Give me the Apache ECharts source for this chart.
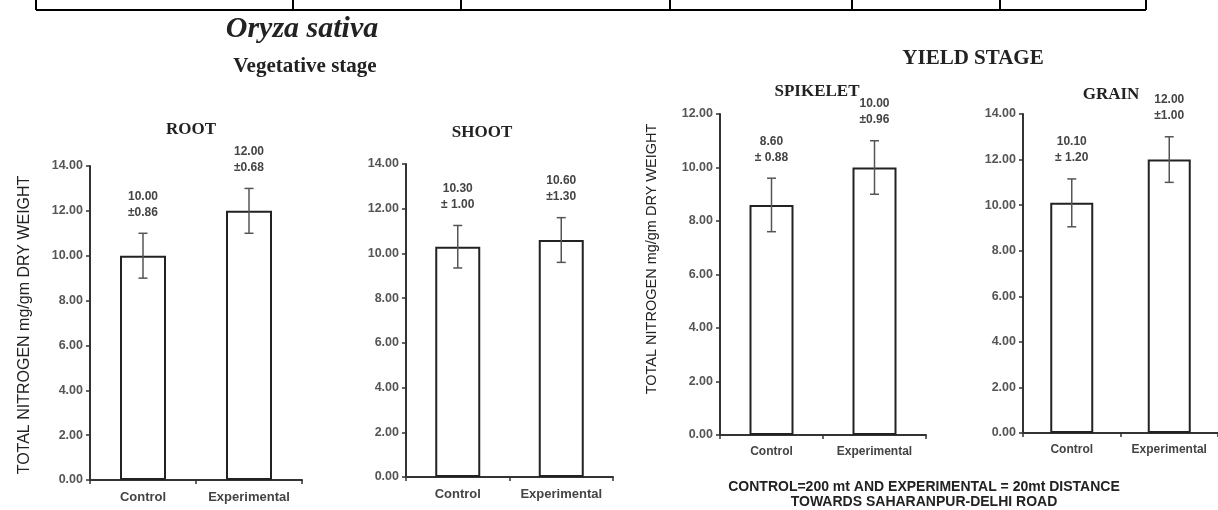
<!DOCTYPE html>
<html>
<head>
<meta charset="utf-8">
<script src="https://cdn.jsdelivr.net/npm/echarts@6/dist/echarts.min.js"></script>
<style>
  html, body { margin: 0; padding: 0; background: #fff; }
  #chart { width: 1218px; height: 510px; }
</style>
</head>
<body>
<div id="chart"></div>
<script>
// values
var categories = ['Control', 'Experimental'];

var rootMeans = [10.0, 12.0];
var rootErr = [1.0, 1.0];
var rootSE = ['±0.86', '±0.68'];

var shootMeans = [10.3, 10.6];
var shootErr = [0.95, 1.0];
var shootSE = ['± 1.00', '±1.30'];

var spikeletMeans = [8.6, 10.0];
var spikeletErr = [1.0, 1.0];
var spikeletSE = ['± 0.88', '±0.96'];

var grainMeans = [10.1, 12.0];
var grainErr = [1.05, 1.0];
var grainSE = ['± 1.20', '±1.00'];

var yMax = [14, 14, 12, 14];

var panels = [
    { means: rootMeans, err: rootErr, se: rootSE, grid: { left: 90, top: 166, width: 212, height: 314 }, barW: 46, catSize: 13 },
    { means: shootMeans, err: shootErr, se: shootSE, grid: { left: 406, top: 164, width: 207, height: 313 }, barW: 45, catSize: 13 },
    { means: spikeletMeans, err: spikeletErr, se: spikeletSE, grid: { left: 720, top: 114, width: 206, height: 321 }, barW: 44, catSize: 12 },
    { means: grainMeans, err: grainErr, se: grainSE, grid: { left: 1023, top: 114, width: 206, height: 319 }, barW: 43, catSize: 12 }
];

var chart = echarts.init(document.getElementById('chart'));

var grids = [], xAxes = [], yAxes = [], series = [];

panels.forEach(function (p, i) {
    grids.push(p.grid);
    xAxes.push({
        type: 'category',
        gridIndex: i,
        data: categories,
        axisLine: { lineStyle: { color: '#333', width: 2 } },
        axisTick: { show: true, length: 4, lineStyle: { color: '#333', width: 1.5 } },
        axisLabel: {
            interval: 0, hideOverlap: false,
            color: '#444', fontWeight: 'bold', fontSize: p.catSize, fontFamily: 'Liberation Sans, Arial', margin: 11
        }
    });
    yAxes.push({
        type: 'value',
        gridIndex: i,
        min: 0,
        max: yMax[i],
        interval: 2,
        splitLine: { show: false },
        axisLine: { show: true, lineStyle: { color: '#333', width: 2 } },
        axisTick: { show: true, length: 4, lineStyle: { color: '#333', width: 1.5 } },
        axisLabel: {
            color: '#555', fontWeight: 'bold', fontSize: 12.5, fontFamily: 'Liberation Sans, Arial', margin: 7,
            formatter: function (v) { return v.toFixed(2); }
        }
    });
    series.push({
        type: 'bar',
        xAxisIndex: i,
        yAxisIndex: i,
        data: p.means,
        barWidth: p.barW,
        silent: true,
        itemStyle: { color: '#fff', borderColor: '#222', borderWidth: 2 }
    });
    var errData = p.means.map(function (m, k) { return [k, m, p.err[k]]; });
    series.push({
        type: 'custom',
        xAxisIndex: i,
        yAxisIndex: i,
        data: errData,
        encode: { x: 0, y: 1 },
        silent: true,
        z: 5,
        renderItem: function (params, api) {
            var k = api.value(0), m = api.value(1), e = api.value(2);
            var hi = api.coord([k, m + e]);
            var lo = api.coord([k, m - e]);
            var cap = 4.5;
            var st = { stroke: '#555', lineWidth: 1.5 };
            return {
                type: 'group',
                children: [
                    { type: 'line', shape: { x1: hi[0], y1: hi[1], x2: lo[0], y2: lo[1] }, style: st },
                    { type: 'line', shape: { x1: hi[0] - cap, y1: hi[1], x2: hi[0] + cap, y2: hi[1] }, style: st },
                    { type: 'line', shape: { x1: lo[0] - cap, y1: lo[1], x2: lo[0] + cap, y2: lo[1] }, style: st },
                    {
                        type: 'text',
                        style: {
                            text: m.toFixed(2) + '\n' + p.se[params.dataIndex],
                            x: hi[0], y: hi[1] - 13,
                            align: 'center', verticalAlign: 'bottom',
                            fill: '#444', font: 'bold 12px "Liberation Sans", Arial',
                            lineHeight: 16
                        }
                    }
                ]
            };
        }
    });
});

function txt(text, x, y, font, rot) {
    return {
        type: 'text', x: x, y: y, rotation: rot || 0, silent: true,
        style: { text: text, font: font, fill: '#222', align: 'center', verticalAlign: 'middle' }
    };
}

var serif = '"Liberation Serif", "Times New Roman", serif';
var sans = '"Liberation Sans", Arial, sans-serif';
var yName = 'TOTAL NITROGEN mg/gm DRY WEIGHT';

var graphics = [
    txt('Oryza sativa', 302, 29, 'italic bold 30px ' + serif),
    txt('Vegetative stage', 305, 67, 'bold 21px ' + serif),
    txt('ROOT', 191, 130, 'bold 17px ' + serif),
    txt('SHOOT', 482, 133, 'bold 17px ' + serif),
    txt('YIELD STAGE', 973, 59, 'bold 21px ' + serif),
    txt('SPIKELET', 817, 92, 'bold 17px ' + serif),
    txt('GRAIN', 1111, 95, 'bold 17px ' + serif),
    txt(yName, 25, 325, '16px ' + sans, Math.PI / 2),
    txt(yName, 652, 259, '14.5px ' + sans, Math.PI / 2),
    txt('CONTROL=200 mt AND EXPERIMENTAL = 20mt DISTANCE', 924, 487, 'bold 14px ' + sans),
    txt('TOWARDS SAHARANPUR-DELHI ROAD', 924, 502, 'bold 14px ' + sans)
];

// table border at the top of the page
var tableX = [36, 293, 461, 670, 852, 1000, 1146];
graphics.push({ type: 'line', silent: true, shape: { x1: 36, y1: 10, x2: 1146, y2: 10 }, style: { stroke: '#000', lineWidth: 2 } });
tableX.forEach(function (x) {
    graphics.push({ type: 'line', silent: true, shape: { x1: x, y1: 0, x2: x, y2: 10 }, style: { stroke: '#000', lineWidth: 2 } });
});

chart.setOption({
    backgroundColor: '#fff',
    animation: false,
    grid: grids,
    xAxis: xAxes,
    yAxis: yAxes,
    series: series,
    graphic: graphics
});
</script>
</body>
</html>
